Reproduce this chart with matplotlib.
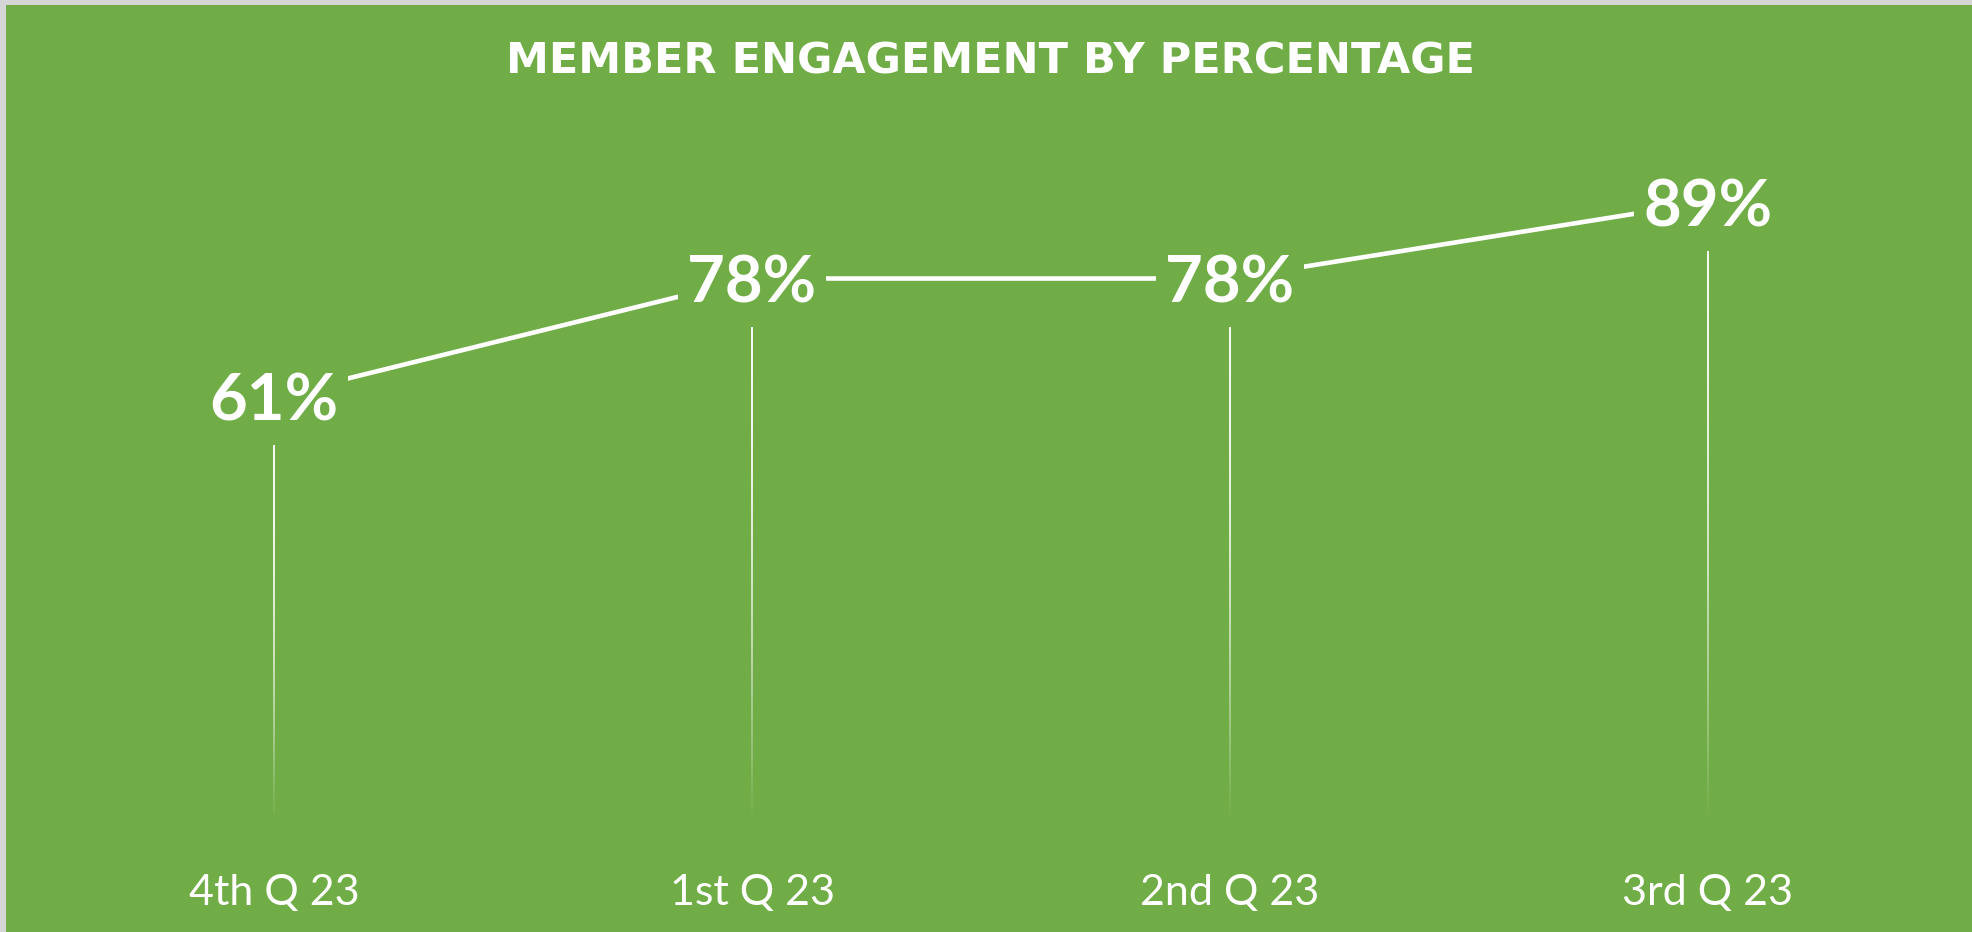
import matplotlib
matplotlib.use("Agg")
import matplotlib.pyplot as plt
import numpy as np
from matplotlib.collections import LineCollection
from matplotlib.patches import Rectangle

categories = ["4th Q 23", "1st Q 23", "2nd Q 23", "3rd Q 23"]
values = [61, 78, 78, 89]
title = "MEMBER ENGAGEMENT BY PERCENTAGE"

GREEN = "#70AD47"
BORDER = "#D6D6D6"
FONT = ["Lato", "DejaVu Sans"]

fig = plt.figure(figsize=(19.72, 9.32), dpi=100, facecolor=BORDER)
fig.patches.append(Rectangle((6 / 1972, 0), 1 - 6 / 1972, 1 - 5 / 932,
                             transform=fig.transFigure, facecolor=GREEN,
                             edgecolor="none", zorder=-10))

ax = fig.add_axes([35 / 1972, 1 - 821 / 932, (1947 - 35) / 1972, (821 - 125.5) / 932])
ax.set_facecolor("none")
ax.set_zorder(1)
x = np.arange(len(values))
ax.set_xlim(-0.5, len(values) - 0.5)
ax.set_ylim(0, 100)

# main line
ax.plot(x, values, color="white", lw=3.3, solid_capstyle="butt", zorder=3)

# fading drop lines (start just below each data label)
gap = 7.0
n = 150
for xi, v in zip(x, values):
    ys = np.linspace(v - gap, 0, n + 1)
    segs = [[(xi, ys[i]), (xi, ys[i + 1])] for i in range(n)]
    t = np.linspace(0, 1, n)
    alphas = 0.95 * (1 - t ** 2)
    cols = [(1, 1, 1, a) for a in alphas]
    ax.add_collection(LineCollection(segs, colors=cols, linewidths=1.4, zorder=2))

# data labels (centered on points, green box hides line)
for xi, v in zip(x, values):
    ax.annotate(f"{v}%", (xi, v), xytext=(0, -4), textcoords="offset points",
                ha="center", va="center", color="white",
                fontsize=47, fontweight="bold", family=FONT, zorder=5,
                bbox=dict(boxstyle="square,pad=0.15", facecolor=GREEN, edgecolor="none"))

ax.set_xticks(x)
ax.set_xticklabels(categories, color="white", fontsize=31, family=FONT)
ax.tick_params(axis="x", length=0, pad=38)
ax.set_yticks([])
for s in ax.spines.values():
    s.set_visible(False)

fig.text(990 / 1972, 1 - 62 / 932, title, ha="center", va="center", color="white",
         fontsize=31, fontweight="bold", family=["DejaVu Sans"], zorder=2)

fig.savefig("out.png", dpi=100, facecolor=BORDER)
